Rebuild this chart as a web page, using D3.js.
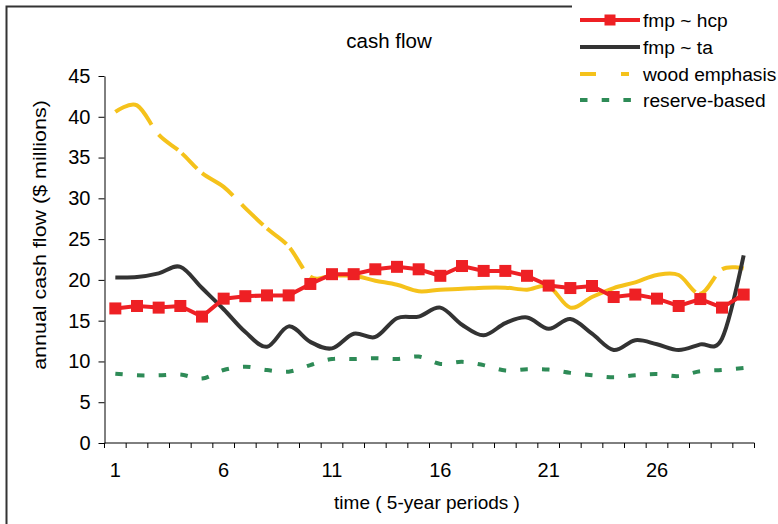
<!DOCTYPE html>
<html>
<head>
<meta charset="utf-8">
<script src="https://cdn.jsdelivr.net/npm/d3@7"></script>
<style>
  html, body { margin: 0; padding: 0; background: #fff; }
  svg { display: block; font-family: "Liberation Sans", Arial, sans-serif; }
</style>
</head>
<body>
<svg id="chart" width="778" height="524"></svg>
<script>
// ---------- data ----------
const periods = [1,2,3,4,5,6,7,8,9,10,11,12,13,14,15,16,17,18,19,20,21,22,23,24,25,26,27,28,29,30];
const xTickLabels = [1, 6, 11, 16, 21, 26];
const yTicks = [0, 5, 10, 15, 20, 25, 30, 35, 40, 45];

const fmpHcp = [16.5,16.8,16.6,16.8,15.5,17.7,18.0,18.1,18.1,19.5,20.7,20.7,21.3,21.6,21.3,20.5,21.7,21.1,21.1,20.5,19.3,19.0,19.25,17.9,18.2,17.7,16.8,17.65,16.6,18.2];
const fmpTa = [20.3,20.35,20.8,21.6,19.0,16.4,13.6,11.8,14.3,12.4,11.6,13.4,13.0,15.3,15.5,16.6,14.5,13.2,14.7,15.4,14.0,15.2,13.4,11.4,12.6,12.1,11.4,12.1,12.8,23.0];
const woodEmphasis = [40.6,41.4,37.8,35.7,33.1,31.4,28.8,26.3,24.1,20.4,20.5,20.5,19.9,19.4,18.6,18.8,18.9,19.05,19.05,18.8,19.2,16.6,17.9,19.0,19.7,20.6,20.6,18.3,21.3,21.4];
const reserveBased = [8.5,8.3,8.3,8.4,7.9,8.95,9.35,8.95,8.75,9.55,10.3,10.3,10.4,10.3,10.6,9.7,9.95,9.55,8.9,9.05,9.0,8.6,8.3,8.05,8.3,8.45,8.2,8.8,8.95,9.2];

const seriesNames = ["fmp ~ hcp", "fmp ~ ta", "wood emphasis", "reserve-based"];
const titleText = "cash flow";
const xTitle = "time ( 5-year periods )";
const yTitle = "annual cash flow ($ millions)";

// ---------- style ----------
const C = { red: "#EE2024", black: "#333333", yellow: "#F5C21B", green: "#2E8B57", axis: "#000" };

const svg = d3.select("#chart");
const m = { left: 104.5, right: 754.5, top: 76, bottom: 443 };

// outer frame (extends beyond the picture)
svg.append("rect").attr("x", 6.5).attr("y", 6.5).attr("width", 800).attr("height", 600)
  .attr("fill", "none").attr("stroke", "#333").attr("stroke-width", 2);

const x = d3.scaleBand().domain(periods).range([m.left, m.right]).padding(0);
const cx = d => x(d) + x.bandwidth() / 2;
const y = d3.scaleLinear().domain([0, 45]).range([m.bottom, m.top]);

// Y axis
const yAxis = svg.append("g").attr("transform", `translate(${m.left},0)`)
  .call(d3.axisLeft(y).tickValues(yTicks).tickSize(6).tickPadding(8).tickSizeOuter(0));
yAxis.selectAll("text").attr("font-size", 20).attr("fill", "#000").attr("font-family", "Liberation Sans, Arial, sans-serif");
yAxis.selectAll("line, path").attr("stroke", C.axis);

// X axis: line + boundary ticks
const xg = svg.append("g");
xg.append("line").attr("x1", m.left).attr("x2", m.right).attr("y1", m.bottom).attr("y2", m.bottom).attr("stroke", C.axis);
const bounds = periods.map(p => x(p)).concat([x(periods[periods.length - 1]) + x.bandwidth()]);
xg.selectAll("line.t").data(bounds).join("line").attr("class", "t")
  .attr("x1", d => d).attr("x2", d => d).attr("y1", m.bottom).attr("y2", m.bottom + 5).attr("stroke", C.axis);
xg.selectAll("text").data(xTickLabels).join("text")
  .attr("x", d => cx(d)).attr("y", 477).attr("text-anchor", "middle").attr("font-size", 20).text(d => d);

// titles
svg.append("text").attr("x", 389).attr("y", 48).attr("text-anchor", "middle").attr("font-size", 20.5).text(titleText);
svg.append("text").attr("x", 427).attr("y", 509).attr("text-anchor", "middle").attr("font-size", 19).text(xTitle);
const yt = svg.append("text").attr("text-anchor", "middle").attr("font-size", 19).text(yTitle);
const ytLen = yt.node().getComputedTextLength();
yt.attr("transform", `translate(46,235) rotate(-90) scale(${270 / ytLen},1)`);

// lines
const smooth = d3.line().x((d, i) => cx(periods[i])).y(d => y(d)).curve(d3.curveCardinal.tension(0));
const straight = d3.line().x((d, i) => cx(periods[i])).y(d => y(d));

// reserve-based (green dotted)
svg.append("path").attr("d", smooth(reserveBased)).attr("fill", "none").attr("stroke", C.green)
  .attr("stroke-width", 4).attr("stroke-dasharray", "7.5,14.2");

// wood emphasis (yellow dashed, gaps at given x positions)
const yPath = svg.append("path").attr("d", smooth(woodEmphasis)).attr("fill", "none").attr("stroke", C.yellow)
  .attr("stroke-width", 4);
const yellowGapsX = [[151.5,158.5],[178,182],[197,202],[233,241.5],[263,267],[286.5,290],[303,310],[695,698.5],[715,721.5]];
(function () {
  const node = yPath.node(), L = node.getTotalLength();
  const lenAtX = xv => { let lo = 0, hi = L; for (let k = 0; k < 40; k++) { const mid = (lo + hi) / 2; if (node.getPointAtLength(mid).x < xv) lo = mid; else hi = mid; } return lo; };
  const arr = []; let pos = 0;
  yellowGapsX.forEach(g => { const a = lenAtX(g[0]), b = lenAtX(g[1]); arr.push(a - pos, b - a); pos = b; });
  arr.push(L - pos + 10, 0);
  yPath.attr("stroke-dasharray", arr.join(","));
})();

// fmp ~ ta (black smooth)
svg.append("path").attr("d", smooth(fmpTa)).attr("fill", "none").attr("stroke", C.black).attr("stroke-width", 4);

// fmp ~ hcp (red + square markers)
svg.append("path").attr("d", straight(fmpHcp)).attr("fill", "none").attr("stroke", C.red).attr("stroke-width", 4);
svg.selectAll("rect.mk").data(fmpHcp).join("rect").attr("class", "mk")
  .attr("x", (d, i) => cx(periods[i]) - 6).attr("y", d => y(d) - 6).attr("width", 12).attr("height", 12).attr("fill", C.red);

// legend
const lg = svg.append("g");
lg.append("rect").attr("x", 572).attr("y", 0).attr("width", 210).attr("height", 116).attr("fill", "#fff");
const rowsY = [20, 47, 74, 100];
const legStyles = [
  { c: C.red, dash: null, marker: true },
  { c: C.black, dash: null },
  { c: C.yellow, dash: "16,25,8,100" },
  { c: C.green, dash: "7.5,14.2" }
];
seriesNames.forEach((n, i) => {
  const s = legStyles[i];
  lg.append("line").attr("x1", 580).attr("x2", 640).attr("y1", rowsY[i]).attr("y2", rowsY[i])
    .attr("stroke", s.c).attr("stroke-width", 4).attr("stroke-dasharray", s.dash);
  if (s.marker) lg.append("rect").attr("x", 604.5).attr("y", rowsY[i] - 5.5).attr("width", 11).attr("height", 11).attr("fill", s.c);
  lg.append("text").attr("x", 643).attr("y", rowsY[i] + 7).attr("font-size", 19.2).text(n);
});
</script>
</body>
</html>
